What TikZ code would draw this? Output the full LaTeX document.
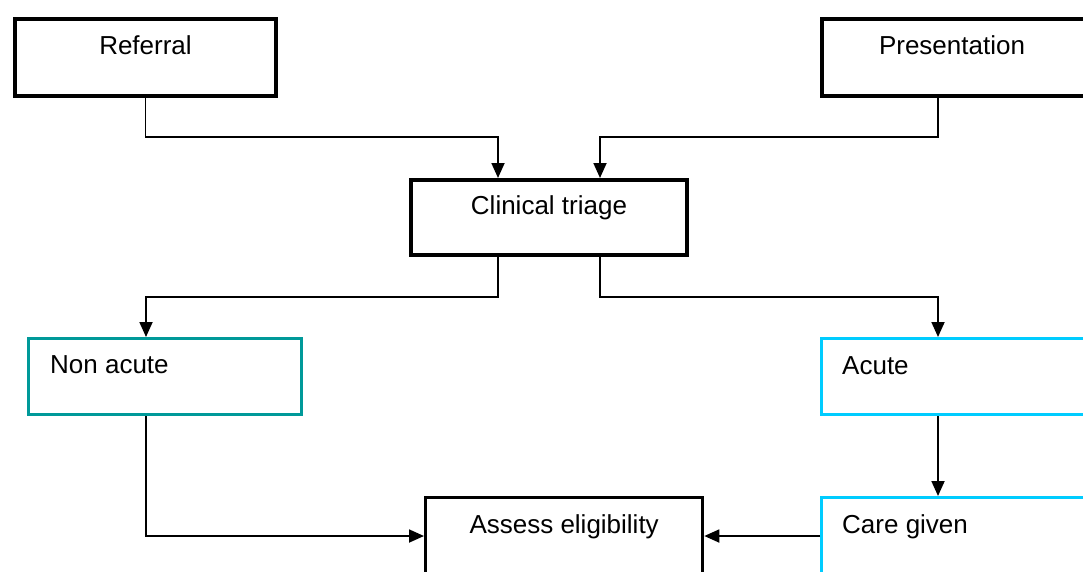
\documentclass[tikz,border=0pt]{standalone}
\usepackage{fontspec}
\setmainfont{Liberation Sans}
\usetikzlibrary{arrows.meta,calc}
\definecolor{tealbox}{RGB}{0,153,153}
\definecolor{cyanbox}{RGB}{0,204,255}
\begin{document}
\begin{tikzpicture}[x=1pt,y=1pt,
  box/.style={draw=black,line width=4pt,rectangle,inner sep=0pt,anchor=north west,fill=white},
  cbox/.style={box,line width=3.3pt},
  lbl/.style={font=\fontsize{26}{31}\selectfont,inner sep=0pt,anchor=base},
  lbll/.style={lbl,anchor=base west},
  arr/.style={line width=1.8pt,-{Triangle[width=13pt,length=15pt]}}]
\path[use as bounding box, clip] (0,0) rectangle (1083,-571);
\fill[white] (0,0) rectangle (1083,-571);
% boxes
\node[box,minimum width=261pt,minimum height=77pt] (ref) at (13,-17) {};
\node[box,minimum width=275pt,minimum height=77pt] (pres) at (820,-17) {};
\node[box,minimum width=276pt,minimum height=75pt] (tri) at (409,-178) {};
\node[cbox,draw=tealbox,minimum width=273pt,minimum height=76pt] (non) at (27,-337) {};
\node[cbox,draw=cyanbox,minimum width=275pt,minimum height=76pt] (acu) at (820,-337) {};
\node[cbox,minimum width=277pt,minimum height=120pt] (ass) at (424,-496) {};
\node[cbox,draw=cyanbox,minimum width=275pt,minimum height=120pt] (care) at (820,-496) {};
% labels
\node[lbl] (reft) at ($(ref.north)+(0,-37)$) {Referral};
\node[lbl] (prest) at ($(pres.north west)+(132,-37)$) {Presentation};
\node[lbl] (trit) at ($(tri.north)+(0,-36)$) {Clinical triage};
\node[lbll] (nont) at ($(non.north west)+(23,-36)$) {Non acute};
\node[lbll] (acut) at ($(acu.north west)+(22,-37)$) {Acute};
\node[lbl] (asst) at ($(ass.north)+(0,-37)$) {Assess eligibility};
\node[lbll] (caret) at ($(care.north west)+(22,-37)$) {Care given};
% connectors
\draw[arr] (ref.south) -- ++(0,-39) -| ($(tri.north)+(-51,0)$);
\draw[arr] ($(pres.south west)+(118,0)$) -- ++(0,-39) -| ($(tri.north)+(51,0)$);
\draw[arr] ($(tri.south)+(-51,0)$) -- ++(0,-40) -| ($(non.north west)+(119,0)$);
\draw[arr] ($(tri.south)+(51,0)$) -- ++(0,-40) -| ($(acu.north west)+(118,0)$);
\draw[arr] ($(acu.south west)+(118,0)$) -- ($(care.north west)+(118,0)$);
\draw[arr] ($(non.south west)+(119,0)$) |- ($(ass.north west)+(0,-40)$);
\draw[arr] ($(care.north west)+(0,-40)$) -- ($(ass.north east)+(0,-40)$);
\end{tikzpicture}
\end{document}
